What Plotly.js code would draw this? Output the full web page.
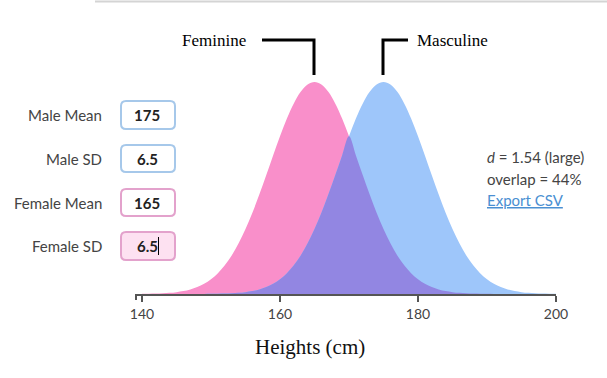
<!DOCTYPE html>
<html><head><meta charset="utf-8">
<script src="https://cdn.plot.ly/plotly-3.0.1.min.js"></script>
<style>html,body{margin:0;padding:0;background:#fff}#chart{width:607px;height:378px}</style>
</head><body><div id="chart"></div>
<script>
// Heights (cm)
const heights = [140,141,142,143,144,145,146,147,148,149,150,151,152,153,154,155,156,157,158,159,160,161,162,163,164,165,166,167,168,169,170,171,172,173,174,175,176,177,178,179,180,181,182,183,184,185,186,187,188,189,190,191,192,193,194,195,196,197,198,199,200];
// relative density (peak = 1)
const feminine = [0.0006,0.0011,0.0019,0.0033,0.0054,0.0088,0.0139,0.0216,0.0327,0.0483,0.0698,0.0983,0.1353,0.1819,0.2388,0.3062,0.3834,0.4689,0.5599,0.6531,0.7439,0.8275,0.8990,0.9538,0.9882,1.0,0.9882,0.9538,0.8990,0.8275,0.7439,0.6531,0.5599,0.4689,0.3834,0.3062,0.2388,0.1819,0.1353,0.0983,0.0698,0.0483,0.0327,0.0216,0.0139,0.0088,0.0054,0.0033,0.0019,0.0011,0.0006,0.0003,0.0002,0.0001,0,0,0,0,0,0,0];
const masculine = [0,0,0,0,0,0,0.0001,0.0001,0.0002,0.0003,0.0006,0.0011,0.0019,0.0033,0.0054,0.0088,0.0139,0.0216,0.0327,0.0483,0.0698,0.0983,0.1353,0.1819,0.2388,0.3062,0.3834,0.4689,0.5599,0.6531,0.7439,0.8275,0.8990,0.9538,0.9882,1.0,0.9882,0.9538,0.8990,0.8275,0.7439,0.6531,0.5599,0.4689,0.3834,0.3062,0.2388,0.1819,0.1353,0.0983,0.0698,0.0483,0.0327,0.0216,0.0139,0.0088,0.0054,0.0033,0.0019,0.0011,0.0006];
const overlap = feminine.map((v,i)=>Math.min(v, masculine[i]));

const xTicks = [140,160,180,200];
const inputLabels = ['Male Mean','Male SD','Female Mean','Female SD'];
const inputValues = ['175','6.5','165','6.5'];
const statLines = ['<i>d</i> = 1.54 (large)','overlap = 44%'];
const linkText = 'Export CSV';
const seriesNames = ['Feminine','Masculine'];
const axisTitle = 'Heights (cm)';

// pixel helpers
const L=136, R=556, T=70, B=294;
const px = p => (p-L)/(R-L);
const py = p => (B-p)/(B-T);

function roundRect(x0,y0,x1,y1,r){
  const rx=r/(R-L), ry=r/(B-T);
  const X0=px(x0),X1=px(x1),Y0=py(y0),Y1=py(y1);
  return `M ${X0+rx},${Y0} L ${X1-rx},${Y0} Q ${X1},${Y0} ${X1},${Y0-ry} L ${X1},${Y1+ry} Q ${X1},${Y1} ${X1-rx},${Y1} L ${X0+rx},${Y1} Q ${X0},${Y1} ${X0},${Y1+ry} L ${X0},${Y0-ry} Q ${X0},${Y0} ${X0+rx},${Y0} Z`;
}

const traces = [
  {x:heights,y:feminine,type:'scatter',mode:'lines',fill:'tozeroy',fillcolor:'#f98fca',line:{width:0,shape:'spline',color:'#f98fca'},hoverinfo:'skip'},
  {x:heights,y:masculine,type:'scatter',mode:'lines',fill:'tozeroy',fillcolor:'#9ec6fa',line:{width:0,shape:'spline',color:'#9ec6fa'},hoverinfo:'skip'},
  {x:heights,y:overlap,type:'scatter',mode:'lines',fill:'tozeroy',fillcolor:'#9286e2',line:{width:0,shape:'spline',color:'#9286e2'},hoverinfo:'skip'}
];

const boxY = [[101,129],[145,172],[189,216],[232,260]];
const boxBorder = ['#a6c8ea','#a6c8ea','#e3a2cc','#e3a2cc'];
const boxFill = ['#ffffff','#ffffff','#ffffff','#fde1f1'];

const shapes = [
  {type:'line',xref:'paper',yref:'paper',x0:px(95),x1:px(607),y0:py(1.5),y1:py(1.5),line:{color:'#d4d4d4',width:2}},
  {type:'line',xref:'paper',yref:'paper',x0:0,x1:0,y0:py(294),y1:py(300),line:{color:'#555',width:2}},
  {type:'path',xref:'paper',yref:'paper',path:`M ${px(262)},${py(40)} L ${px(314)},${py(40)} L ${px(314)},${py(75)}`,line:{color:'#000',width:3}},
  {type:'path',xref:'paper',yref:'paper',path:`M ${px(383)},${py(75)} L ${px(383)},${py(40)} L ${px(408)},${py(40)}`,line:{color:'#000',width:3}}
];
boxY.forEach((b,i)=>{
  shapes.push({type:'path',xref:'paper',yref:'paper',path:roundRect(121,b[0],175,b[1],5),fillcolor:boxFill[i],line:{color:boxBorder[i],width:2},layer:'above'});
});

const annotations = [];
inputLabels.forEach((t,i)=>{
  const yc=(boxY[i][0]+boxY[i][1])/2;
  annotations.push({xref:'paper',yref:'paper',x:px(104),y:py(yc),xanchor:'right',yanchor:'middle',text:t,showarrow:false,font:{family:'Lato, sans-serif',size:15,color:'#444'}});
  annotations.push({xref:'paper',yref:'paper',x:px(147),y:py(yc),xanchor:'center',yanchor:'middle',text:'<b>'+inputValues[i]+'</b>',showarrow:false,font:{family:'Lato, sans-serif',size:15,color:'#222'}});
});
shapes.push({type:'line',xref:'paper',yref:'paper',x0:px(158.5),x1:px(158.5),y0:py(237),y1:py(255),line:{color:'#000',width:1},layer:'above'});

annotations.push({xref:'paper',yref:'paper',x:px(485),y:py(157),xanchor:'left',yanchor:'middle',text:statLines[0],showarrow:false,font:{family:'Lato, sans-serif',size:15,color:'#444'}});
annotations.push({xref:'paper',yref:'paper',x:px(485),y:py(179),xanchor:'left',yanchor:'middle',text:statLines[1],showarrow:false,font:{family:'Lato, sans-serif',size:15,color:'#444'}});
annotations.push({xref:'paper',yref:'paper',x:px(485),y:py(200),xanchor:'left',yanchor:'middle',text:'<u>'+linkText+'</u>',showarrow:false,font:{family:'Lato, sans-serif',size:15,color:'#4a8fd2'}});
annotations.push({xref:'paper',yref:'paper',x:px(248),y:py(40),xanchor:'right',yanchor:'middle',text:seriesNames[0],showarrow:false,font:{family:'Liberation Serif, Times New Roman, serif',size:17,color:'#000'}});
annotations.push({xref:'paper',yref:'paper',x:px(415),y:py(40),xanchor:'left',yanchor:'middle',text:seriesNames[1],showarrow:false,font:{family:'Liberation Serif, Times New Roman, serif',size:17,color:'#000'}});
annotations.push({xref:'paper',yref:'paper',x:px(310),y:py(347),xanchor:'center',yanchor:'middle',text:axisTitle,showarrow:false,font:{family:'Liberation Serif, Times New Roman, serif',size:21,color:'#111'}});

const layout = {
  width:607,height:378,
  margin:{l:L,r:607-R,t:T,b:378-B,pad:0},
  paper_bgcolor:'#fff',plot_bgcolor:'#fff',
  showlegend:false,
  xaxis:{range:[139.13,200],tickvals:xTicks,ticktext:xTicks.map(String),ticks:'outside',ticklen:6,tickwidth:1.5,tickcolor:'#555',
    showline:true,linecolor:'#555',linewidth:2,showgrid:false,zeroline:false,fixedrange:true,
    tickfont:{family:'Lato, sans-serif',size:14,color:'#444'}},
  yaxis:{range:[0,224/212],visible:false,showgrid:false,zeroline:false,fixedrange:true},
  shapes:shapes,annotations:annotations
};
Plotly.newPlot('chart',traces,layout,{displayModeBar:false,staticPlot:true});
</script></body></html>
